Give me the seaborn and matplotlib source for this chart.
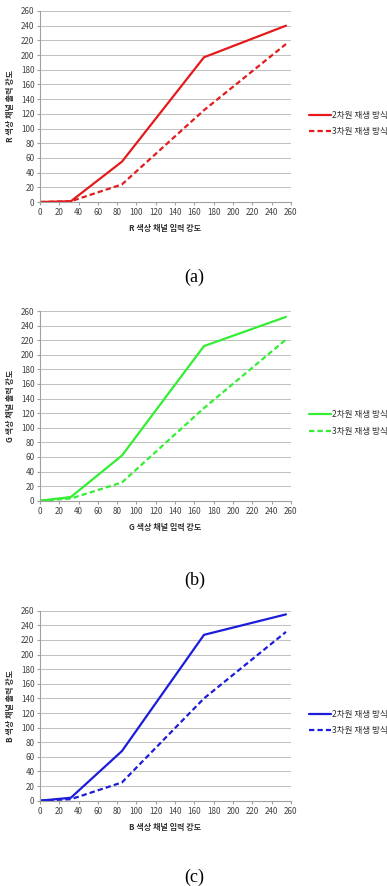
import matplotlib
matplotlib.use("Agg")
import matplotlib.pyplot as plt
import seaborn as sns
import pandas as pd

sns.set_theme(style="white")
plt.rcParams['font.family'] = ['Noto Sans CJK KR', 'DejaVu Sans']

x_input = [0, 32, 85, 170, 255]
methods = ["2차원 재생 방식", "3차원 재생 방식"]

r_2d = [0, 1, 55, 197, 240]
r_3d = [0, 1, 24, 125, 215]
g_2d = [0, 5, 62, 212, 252]
g_3d = [0, 3, 25, 127, 221]
b_2d = [0, 4, 68, 227, 255]
b_3d = [0, 2, 25, 140, 231]

channels = ["R", "G", "B"]
captions = ["(a)", "(b)", "(c)"]
colors = ["#e41a1c", "#33ee33", "#1c1cdc"]
series = [(r_2d, r_3d), (g_2d, g_3d), (b_2d, b_3d)]

ticks = list(range(0, 261, 20))

fig = plt.figure(figsize=(3.87, 8.86), dpi=100)

axes_rects = [
    [0.1034, 0.772, 0.648, 0.2156],
    [0.1034, 0.4349, 0.648, 0.214],
    [0.1034, 0.0963, 0.648, 0.2144],
]
caption_y = [1 - 277 / 886, 1 - 580 / 886, 1 - 877 / 886]

for i in range(3):
    ax = fig.add_axes(axes_rects[i])
    s2, s3 = series[i]
    df = pd.DataFrame({
        "input": x_input * 2,
        "output": s2 + s3,
        "method": [methods[0]] * len(x_input) + [methods[1]] * len(x_input),
    })
    sns.lineplot(data=df, x="input", y="output", style="method",
                 dashes={methods[0]: "", methods[1]: (2.4, 1.4)},
                 color=colors[i], linewidth=1.6, legend=False, ax=ax)
    ax.set_xlim(0, 260)
    ax.set_ylim(0, 260)
    ax.set_xticks(ticks)
    ax.set_yticks(ticks)
    ax.yaxis.grid(True, color="#c0c0c0", linewidth=0.7)
    ax.xaxis.grid(False)
    ax.set_axisbelow(True)
    for sp in ["top", "right"]:
        ax.spines[sp].set_visible(False)
    for sp in ["left", "bottom"]:
        ax.spines[sp].set_color("#a0a0a0")
        ax.spines[sp].set_linewidth(0.8)
    ax.tick_params(axis="both", which="major", labelsize=5.8, colors="#a0a0a0",
                   labelcolor="#404040", length=2.5, width=0.8, pad=2)
    ax.tick_params(axis="x", bottom=True, direction="out")
    ax.tick_params(axis="y", left=True, direction="out", length=2)
    ax.set_xlabel(f"{channels[i]} 색상 채널 입력 강도", fontsize=5.8,
                  fontweight="bold", color="#303030", labelpad=5)
    ax.set_ylabel(f"{channels[i]} 색상 채널 출력 강도", fontsize=5.8,
                  fontweight="bold", color="#303030", labelpad=4)
    ax.legend(ax.lines[:2], methods, loc="center left",
              bbox_to_anchor=(1.04, 0.41), frameon=False, fontsize=6.2,
              handlelength=2.6, handletextpad=0.1, labelspacing=0.85,
              labelcolor="#303030")
    fig.text(0.503, caption_y[i], captions[i], ha="center", va="center",
             fontsize=13, family=["Liberation Serif", "DejaVu Serif"],
             color="#000000")

fig.savefig("out.png", dpi=100)
